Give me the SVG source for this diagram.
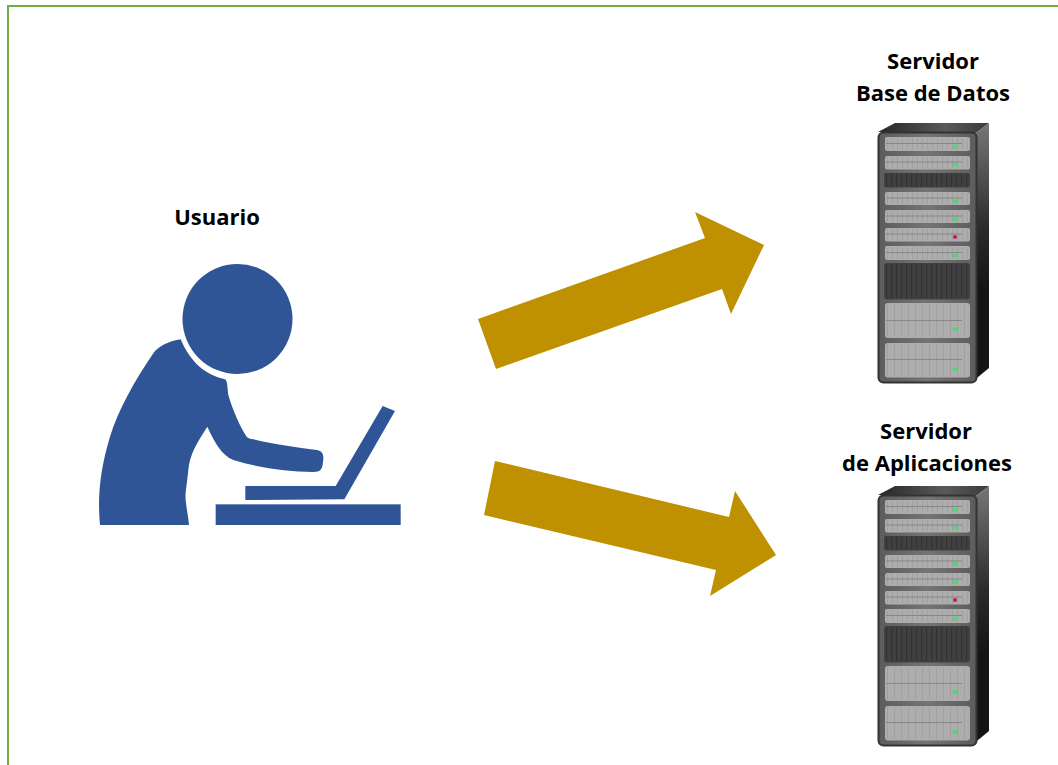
<svg xmlns="http://www.w3.org/2000/svg" width="1058" height="765" viewBox="0 0 1058 765">
<style>
.lbl{font-family:"Open Sans","Liberation Sans",sans-serif;font-weight:700;font-size:22px;fill:#000;text-anchor:middle}
.blue{fill:#2f5597}
.arrow{fill:#bf9000}
.slot{fill:#adadad}
.dark{fill:#404040}
.ln{stroke:#7d7d7d;stroke-width:.8;fill:none}
.rib{stroke:#a0a0a0;fill:none}
.ribd{stroke:#333;fill:none;stroke-dasharray:1.2 3.8}
.g{fill:#35e56b}.r{fill:#d0144e}
</style>
<defs>
<linearGradient id="top" x1="0" x2="1" y1="0" y2="0"><stop offset="0" stop-color="#262626"/><stop offset=".6" stop-color="#5a5a5a"/><stop offset="1" stop-color="#3a3a3a"/></linearGradient>
<linearGradient id="side" x1="0" x2="0" y1="0" y2="1"><stop offset="0" stop-color="#777"/><stop offset=".4" stop-color="#2c2c2c"/><stop offset=".65" stop-color="#141414"/><stop offset="1" stop-color="#141414"/></linearGradient>
<linearGradient id="front" x1="0" x2="1" y1="0" y2="0"><stop offset="0" stop-color="#5c5c5c"/><stop offset=".5" stop-color="#747474"/><stop offset="1" stop-color="#5c5c5c"/></linearGradient>
<g id="server">
<path d="M878 132L895 123H989L976 133Z" fill="url(#top)"/>
<path d="M976 133L989 123V368L972 382Z" fill="url(#side)"/>
<rect x="878.500" y="132.500" width="98" height="250" rx="5" fill="url(#front)" stroke="#333" stroke-width="2"/>
<rect class="slot" x="885" y="137" width="85" height="14" rx="2"/>
<rect class="slot" x="885" y="156" width="85" height="13.500" rx="2"/>
<rect class="dark" x="884" y="173" width="86" height="14.500" rx="2"/>
<rect class="slot" x="885" y="192" width="85" height="13" rx="2"/>
<rect class="slot" x="885" y="210" width="85" height="13" rx="2"/>
<rect class="slot" x="885" y="228" width="85" height="13.500" rx="2"/>
<rect class="slot" x="885" y="246" width="85" height="14" rx="2"/>
<rect class="dark" x="884" y="263" width="86" height="36.500" rx="3"/>
<rect class="slot" x="885" y="303" width="85" height="35" rx="3"/>
<rect class="slot" x="885" y="343" width="85" height="34.500" rx="3"/>
<path class="ribd" stroke-width="13" d="M886 180H969"/>
<path class="ribd" stroke-width="34" d="M886 281H969"/>
<path class="rib" stroke-width="11" stroke-dasharray="1 4" d="M887 144H968M887 162.500H968M887 198.500H968M887 216.500H968M887 234.500H968M887 253H968"/>
<path class="rib" stroke-width="32" stroke-dasharray="1 6" d="M887 320.500H968M887 360H968"/>
<path class="ln" d="M886 143.500H962M886 162H962M886 198H962M886 216H962M886 234H962M886 252.500H962M886 320.500H962M886 359.500H962"/>
<circle class="g" cx="955" cy="146.500" r="2"/>
<circle class="g" cx="955" cy="165" r="2"/>
<circle class="g" cx="955" cy="201" r="2"/>
<circle class="g" cx="955" cy="219" r="2"/>
<circle class="r" cx="955" cy="237" r="2"/>
<circle class="g" cx="955" cy="255.500" r="2"/>
<circle class="g" cx="955" cy="329" r="2"/>
<circle class="g" cx="955" cy="369" r="2"/>
</g>
</defs>
<rect width="1058" height="765" fill="#fff"/>
<path d="M1058 6H8V765" fill="none" stroke="#70ad47" stroke-width="2"/>
<g id="connectors">
<polygon class="arrow" points="478,319 705,238 695,212 764,245 731,314 722,289 496,369"/>
<polygon class="arrow" points="495,461 729,517 735,491 776,555 710,596 716,570 484,515"/>
</g>
<g id="usuario">
<text class="lbl" x="217" y="225">Usuario</text>
<circle class="blue" cx="237.500" cy="319" r="55"/>
<g transform="translate(90 330) scale(.33333)" class="blue">
<path d="M30 585C22 500 30 420 60 320C85 240 135 150 190 70C205 48 240 33 272 28C300 95 345 135 405 148C413 152 412 175 415 195C430 245 450 290 470 320C475 325 480 326 490 328C550 342 620 352 680 360C695 362 701 372 700 385C699 400 698 412 693 418C688 425 680 426 670 426C590 424 510 415 430 390C395 375 375 340 352 290C320 340 300 370 295 420C290 470 285 490 287 510C290 540 295 560 297 585Z"/>
<path d="M466 468H737L878 228L915 243L763 508L466 510Z"/>
<rect x="377" y="523" width="555" height="62"/>
</g>
</g>
<g id="servidor-bd">
<text class="lbl" x="933" y="69">Servidor</text>
<text class="lbl" x="933" y="101">Base de Datos</text>
<use href="#server"/>
</g>
<g id="servidor-app">
<text class="lbl" x="926" y="439">Servidor</text>
<text class="lbl" x="927" y="471">de Aplicaciones</text>
<use href="#server" y="363"/>
</g>
</svg>
